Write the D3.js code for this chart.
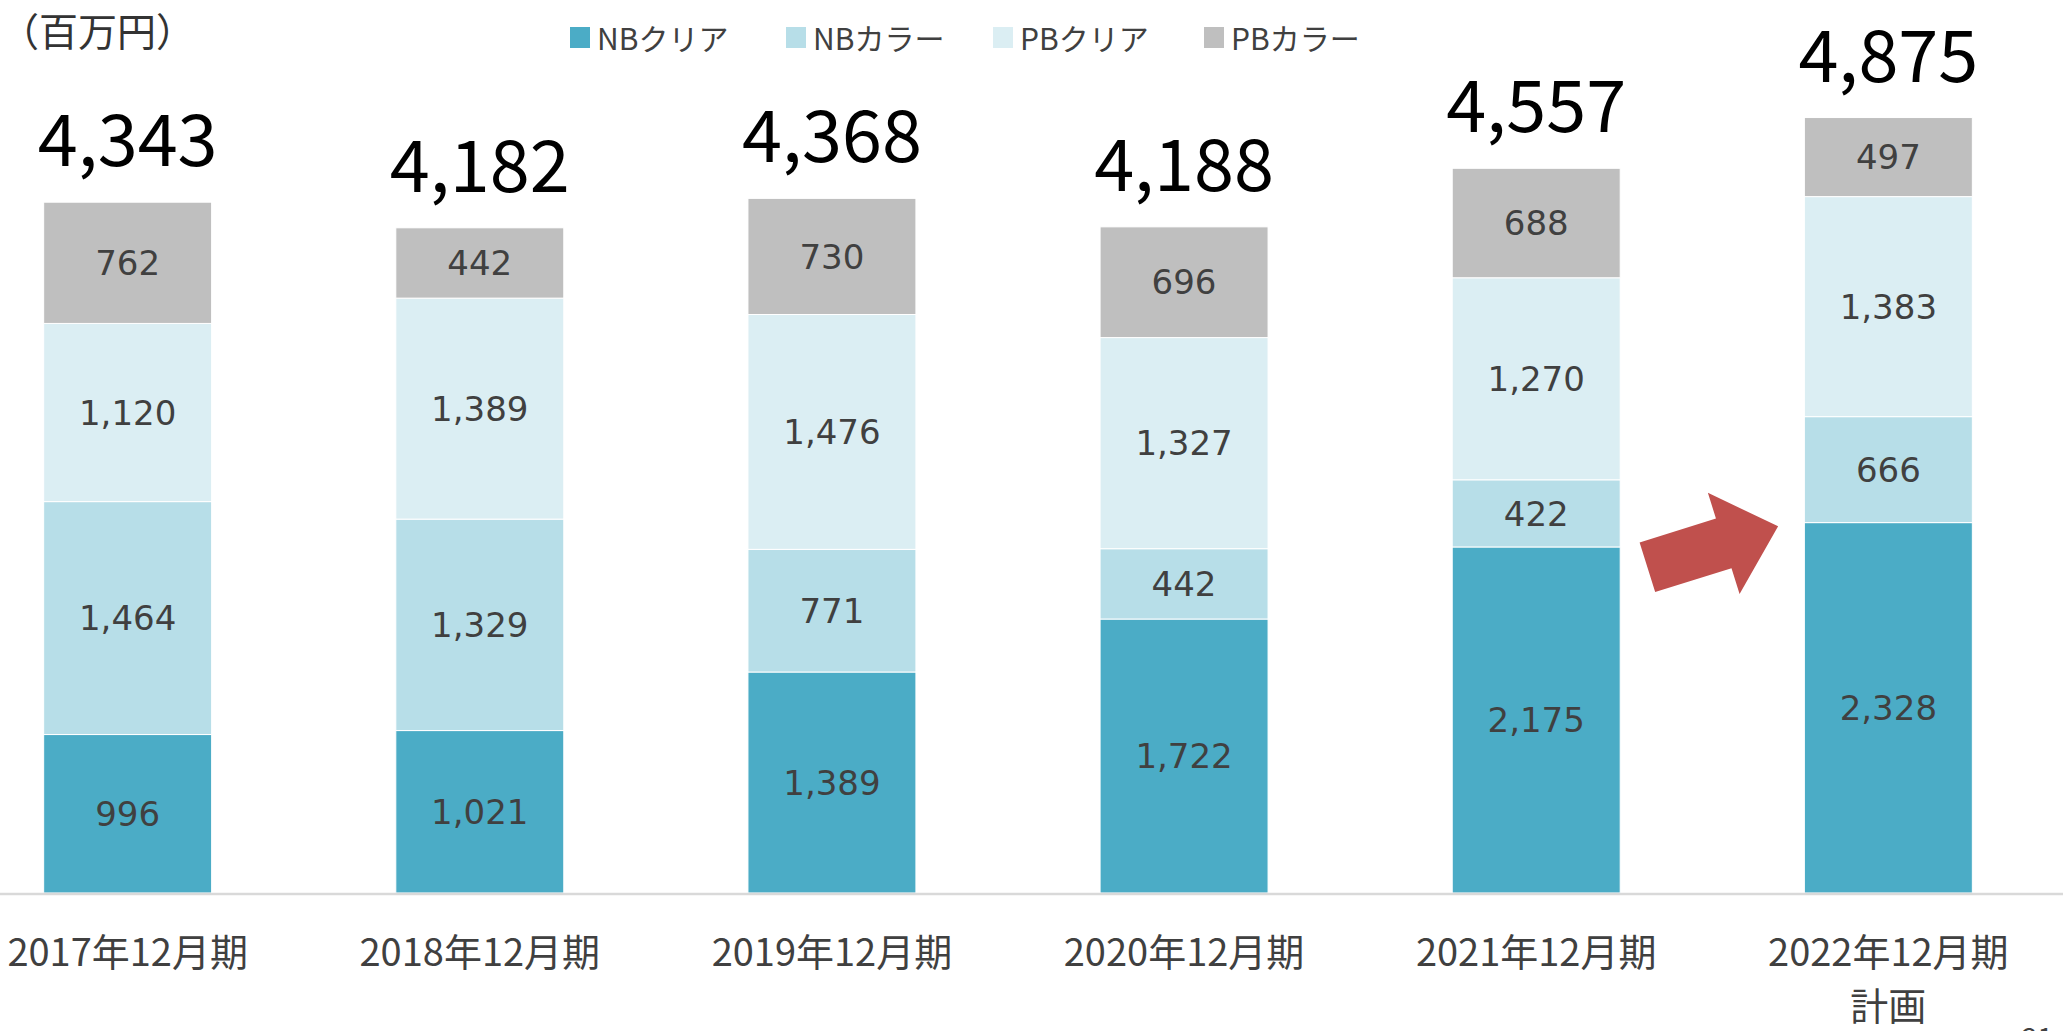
<!DOCTYPE html>
<html>
<head>
<meta charset="utf-8">
<script src="https://cdn.jsdelivr.net/npm/d3@7"></script>
<style>
  body { margin: 0; background: #fff; }
  svg { display: block; }
</style>
</head>
<body>
<svg width="2071" height="1031"></svg>
<script>
// Data (百万円)
var periods = ['2017年12月期', '2018年12月期', '2019年12月期', '2020年12月期', '2021年12月期', '2022年12月期'];
var periodNotes = ['', '', '', '', '', '計画'];
var seriesNames = ['NBクリア', 'NBカラー', 'PBクリア', 'PBカラー'];
var nbClear = [996, 1021, 1389, 1722, 2175, 2328];
var nbColor = [1464, 1329, 771, 442, 422, 666];
var pbClear = [1120, 1389, 1476, 1327, 1270, 1383];
var pbColor = [762, 442, 730, 696, 688, 497];
var totals = [4343, 4182, 4368, 4188, 4557, 4875];
var colors = ['#4BACC6', '#B7DEE8', '#DBEEF3', '#BFBFBF'];

var svg = d3.select('svg');
var svgWidth = +svg.attr('width');
var svgHeight = +svg.attr('height');

svg.append('rect')
    .attr('width', svgWidth)
    .attr('height', svgHeight)
    .attr('fill', '#fff');

var baseY = 893;
var cjk = '"Noto Sans CJK JP", "Noto Sans", sans-serif';

// Build one row per period for the stack
var rows = periods.map(function(p, i) {
    return {
        period: p,
        'NBクリア': nbClear[i],
        'NBカラー': nbColor[i],
        'PBクリア': pbClear[i],
        'PBカラー': pbColor[i],
        total: totals[i],
        note: periodNotes[i]
    };
});

var stack = d3.stack().keys(seriesNames);
var layers = stack(rows);

var x = d3.scaleBand()
    .domain(periods)
    .range([0, 2016])
    .paddingInner(0.523)
    .paddingOuter(0.124);

var y = d3.scaleLinear()
    .domain([0, 5000])
    .range([baseY, 97.5]);

var color = d3.scaleOrdinal()
    .domain(seriesNames)
    .range(colors);

// Stacked bars
var layerG = svg.selectAll('.layer')
    .data(layers)
    .enter().append('g')
    .attr('class', 'layer')
    .attr('fill', function(d) { return color(d.key); });

layerG.selectAll('rect')
    .data(function(d) { return d; })
    .enter().append('rect')
    .attr('x', function(d) { return x(d.data.period); })
    .attr('y', function(d) { return y(d[1]); })
    .attr('width', x.bandwidth())
    .attr('height', function(d) { return y(d[0]) - y(d[1]); })
    .attr('stroke', '#fff')
    .attr('stroke-width', 1);

// Segment value labels
layerG.each(function(layer) {
    d3.select(this).selectAll('text')
        .data(layer)
        .enter().append('text')
        .attr('x', function(d) { return x(d.data.period) + x.bandwidth() / 2; })
        .attr('y', function(d) { return (y(d[0]) + y(d[1])) / 2; })
        .attr('dy', '0.36em')
        .attr('text-anchor', 'middle')
        .attr('font-family', '"DejaVu Sans", sans-serif')
        .attr('font-size', 34)
        .attr('fill', '#404040')
        .text(function(d) { return d3.format(',')(d.data[layer.key]); });
});

// Totals above bars
svg.selectAll('.total')
    .data(rows)
    .enter().append('text')
    .attr('class', 'total')
    .attr('x', function(d) { return x(d.period) + x.bandwidth() / 2; })
    .attr('y', function(d) { return y(d3.sum(seriesNames, function(k) { return d[k]; })) - 36; })
    .attr('text-anchor', 'middle')
    .attr('font-family', cjk)
    .attr('font-size', 72)
    .attr('fill', '#000')
    .text(function(d) { return d3.format(',')(d.total); });

// Baseline
svg.append('line')
    .attr('x1', 0)
    .attr('x2', 2063)
    .attr('y1', baseY + 1)
    .attr('y2', baseY + 1)
    .attr('stroke', '#D9D9D9')
    .attr('stroke-width', 2.5);

// Category labels (second line for the plan year)
svg.selectAll('.cat')
    .data(rows)
    .enter().append('text')
    .attr('class', 'cat')
    .attr('x', function(d) { return x(d.period) + x.bandwidth() / 2; })
    .attr('y', 966)
    .attr('text-anchor', 'middle')
    .attr('font-family', cjk)
    .attr('font-size', 38)
    .attr('fill', '#404040')
    .text(function(d) { return d.period; });

svg.selectAll('.note')
    .data(rows.filter(function(d) { return d.note; }))
    .enter().append('text')
    .attr('class', 'note')
    .attr('x', function(d) { return x(d.period) + x.bandwidth() / 2; })
    .attr('y', 1020)
    .attr('text-anchor', 'middle')
    .attr('font-family', cjk)
    .attr('font-size', 38)
    .attr('fill', '#404040')
    .text(function(d) { return d.note; });

// Unit label
svg.append('text')
    .attr('x', 0)
    .attr('y', 46)
    .attr('font-family', cjk)
    .attr('font-size', 39)
    .attr('fill', '#333')
    .text('（百万円）');

// Legend
var legendX = [570, 786, 993, 1204];
var legend = svg.selectAll('.legend')
    .data(seriesNames)
    .enter().append('g')
    .attr('class', 'legend')
    .attr('transform', function(d, i) { return 'translate(' + [legendX[i], 37] + ')'; });

legend.append('rect')
    .attr('x', 0)
    .attr('y', -10)
    .attr('width', 20)
    .attr('height', 21)
    .attr('fill', function(d) { return color(d); });

legend.append('text')
    .attr('x', 27)
    .attr('y', 0)
    .attr('dominant-baseline', 'central')
    .attr('font-family', cjk)
    .attr('font-size', 30)
    .attr('fill', '#404040')
    .text(function(d) { return d; });

// Growth arrow between the last two bars
var arrowCx = (x(periods[4]) + x.bandwidth() + x(periods[5])) / 2;
var arrowCy = y(nbClear[4]);
svg.append('path')
    .attr('d', 'M-68,-26 L12,-26 L12,-53 L69,0 L12,53 L12,26 L-68,26 Z')
    .attr('transform', 'translate(' + [arrowCx, arrowCy] + ') rotate(-17.4)')
    .attr('fill', '#C0504D');

// Page number, cut off at the bottom edge as in the source slide
svg.append('text')
    .attr('x', 2022)
    .attr('y', 1048)
    .attr('font-family', cjk)
    .attr('font-size', 28)
    .attr('fill', '#404040')
    .text('21');
</script>
</body>
</html>
